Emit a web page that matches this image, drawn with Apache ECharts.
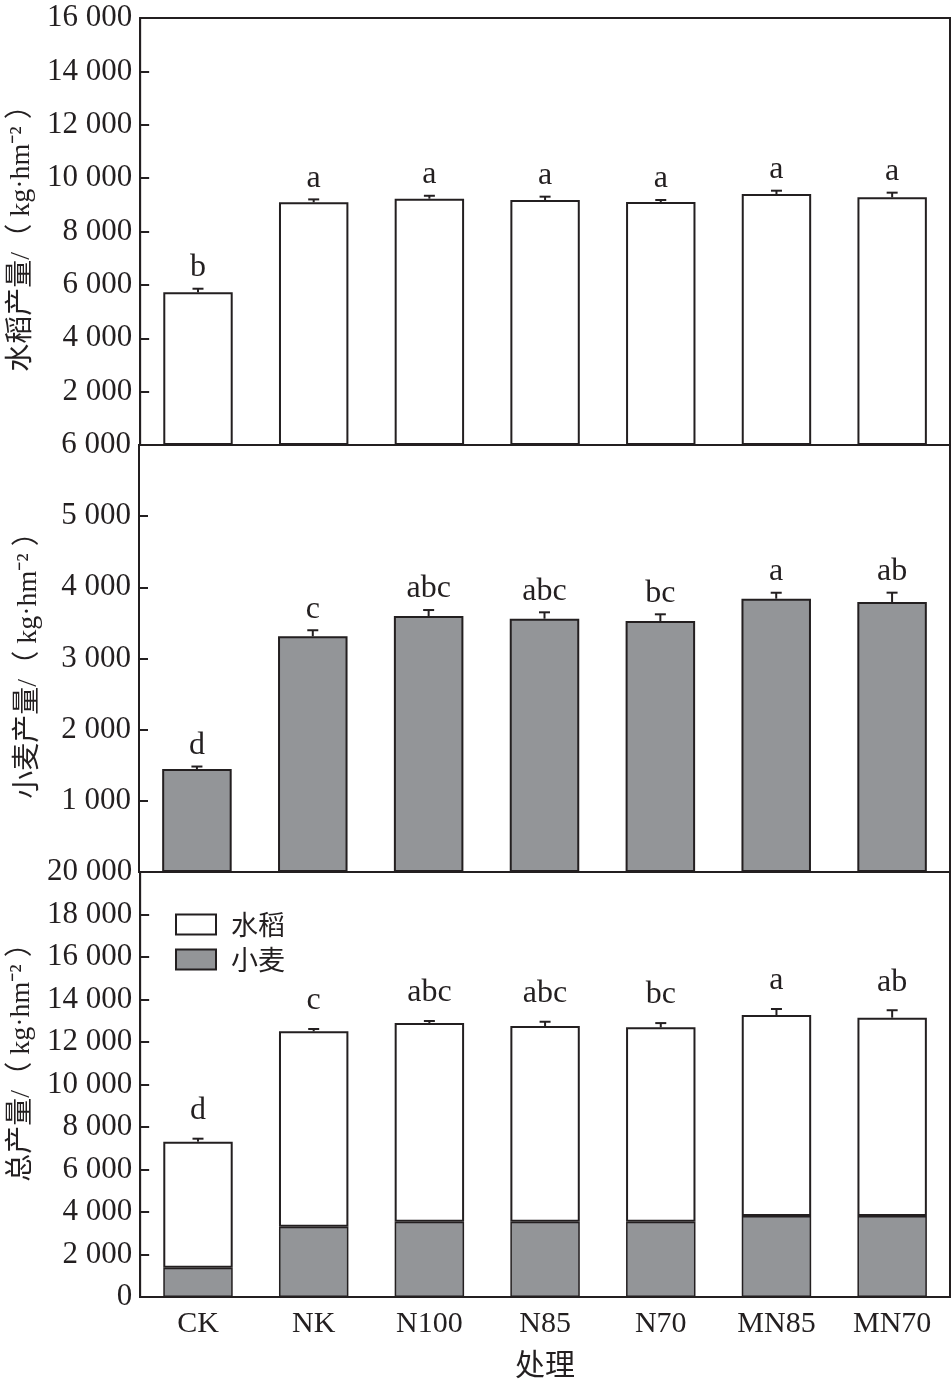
<!DOCTYPE html>
<html>
<head>
<meta charset="utf-8">
<script src="https://cdn.jsdelivr.net/npm/echarts@6/dist/echarts.min.js"></script>
<style>
  html, body { margin: 0; padding: 0; background: #fff; }
  #main { width: 951px; height: 1388px; }
</style>
</head>
<body>
<div id="main"></div>
<script>
// 处理
var treatments = ['CK', 'NK', 'N100', 'N85', 'N70', 'MN85', 'MN70'];

// 水稻产量
var riceYield = [5721, 9093, 9229, 9180, 9105, 9404, 9280];
var riceErr = [135, 110, 110, 125, 75, 125, 175];
var riceLetters = ['b', 'a', 'a', 'a', 'a', 'a', 'a'];

// 小麦产量
var wheatYield = [1447, 3312, 3597, 3559, 3527, 3840, 3794];
var wheatErr = [35, 85, 84, 90, 94, 84, 131];
var wheatLetters = ['d', 'c', 'abc', 'abc', 'bc', 'a', 'ab'];

// 总产量 (bottom panel: wheat part and total)
var totalWheatPart = [1379, 3308, 3544, 3544, 3544, 3812, 3812];
var totalYield = [7310, 12502, 12894, 12753, 12690, 13270, 13145];
var totalErr = [140, 110, 94, 200, 200, 282, 350];
var totalLetters = ['d', 'c', 'abc', 'abc', 'bc', 'a', 'ab'];

var ink = '#231f20';
var grey = '#939598';
var serif = 'Liberation Serif';

var chart = echarts.init(document.getElementById('main'));

function fmt(v) {
    if (v < 1000) return String(v);
    var r = String(v % 1000);
    while (r.length < 3) r = '0' + r;
    return Math.floor(v / 1000) + ' ' + r;
}

// error bar + significance letter
function errItem(letters, gap) {
    return function (params, api) {
        var i = api.value(0);
        var v = api.value(1);
        var e = api.value(2);
        var p0 = api.coord([i, v]);
        var p1 = api.coord([i, v + e]);
        var st = { stroke: ink, lineWidth: 2 };
        return {
            type: 'group',
            children: [
                { type: 'line', shape: { x1: p0[0], y1: p0[1], x2: p1[0], y2: p1[1] }, style: st },
                { type: 'line', shape: { x1: p1[0] - 5.5, y1: p1[1], x2: p1[0] + 5.5, y2: p1[1] }, style: st },
                {
                    type: 'text',
                    x: p1[0],
                    y: p1[1] - gap,
                    style: {
                        text: letters[params.dataIndex],
                        fill: ink,
                        font: '32px "' + serif + '"',
                        textAlign: 'center',
                        textVerticalAlign: 'bottom'
                    }
                }
            ]
        };
    };
}

function errData(vals, errs) {
    return vals.map(function (v, i) { return [i, v, errs[i]]; });
}

function xAx(idx, showLabel) {
    return {
        type: 'category',
        gridIndex: idx,
        data: treatments,
        axisLine: { lineStyle: { color: ink, width: 2 } },
        axisTick: { show: false },
        axisLabel: {
            show: showLabel,
            color: ink,
            fontFamily: serif,
            fontSize: 30,
            margin: 12
        },
        name: showLabel ? '处理' : '',
        nameLocation: 'middle',
        nameGap: 52,
        nameTextStyle: { color: ink, fontFamily: 'Noto Sans CJK SC', fontSize: 30 }
    };
}

function yAx(idx, max, interval, name, hideMin, namePad) {
    return {
        type: 'value',
        gridIndex: idx,
        min: 0,
        max: max,
        interval: interval,
        splitLine: { show: false },
        axisLine: { show: true, lineStyle: { color: ink, width: 2 } },
        axisTick: { show: true, inside: true, length: 9, lineStyle: { color: ink, width: 2 } },
        axisLabel: {
            color: ink,
            fontFamily: serif,
            fontSize: 31,
            margin: 8,
            showMinLabel: !hideMin,
            formatter: fmt
        },
        name: name,
        nameLocation: 'middle',
        nameGap: 96,
        nameTextStyle: {
            color: ink,
            fontFamily: serif + ', Noto Sans CJK SC',
            fontSize: 28,
            padding: namePad
        }
    };
}

var option = {
    animation: false,
    backgroundColor: '#fff',
    grid: [
        { left: 139, width: 811, top: 18, height: 427, show: true, borderColor: ink, borderWidth: 2 },
        { left: 139, width: 811, top: 445, height: 427, show: true, borderColor: ink, borderWidth: 2 },
        { left: 139, width: 811, top: 872, height: 425, show: true, borderColor: ink, borderWidth: 2 }
    ],
    xAxis: [xAx(0, false), xAx(1, false), xAx(2, true)],
    yAxis: [
        yAx(0, 16000, 2000, '水稻产量/（ kg·hm⁻² ）', true, [0, 0, 0, 0]),
        yAx(1, 6000, 1000, '小麦产量/（ kg·hm⁻² ）', true, [0, 0, 0, 0]),
        yAx(2, 20000, 2000, '总产量/（ kg·hm⁻² ）', false, [0, 0, 0, 58])
    ],
    legend: {
        orient: 'vertical',
        left: 170,
        top: 906,
        icon: 'rect',
        itemWidth: 40,
        itemHeight: 20,
        itemGap: 8,
        data: ['水稻', '小麦'],
        itemStyle: { borderColor: ink, borderWidth: 2 },
        textStyle: { color: ink, fontFamily: 'Noto Sans CJK SC', fontSize: 27, padding: [0, 0, 0, 10] }
    },
    series: [
        {
            name: '水稻产量', type: 'bar', xAxisIndex: 0, yAxisIndex: 0, barWidth: '60%',
            itemStyle: { color: '#fff', borderColor: ink, borderWidth: 2 },
            data: riceYield
        },
        {
            type: 'custom', xAxisIndex: 0, yAxisIndex: 0, z: 5,
            renderItem: errItem(riceLetters, 5),
            data: errData(riceYield, riceErr)
        },
        {
            name: '小麦产量', type: 'bar', xAxisIndex: 1, yAxisIndex: 1, barWidth: '60%',
            itemStyle: { color: grey, borderColor: ink, borderWidth: 2 },
            data: wheatYield
        },
        {
            type: 'custom', xAxisIndex: 1, yAxisIndex: 1, z: 5,
            renderItem: errItem(wheatLetters, 5),
            data: errData(wheatYield, wheatErr)
        },
        {
            name: '小麦', type: 'bar', xAxisIndex: 2, yAxisIndex: 2, barWidth: '60%', stack: 'total',
            itemStyle: { color: grey, borderColor: ink, borderWidth: 1.5 },
            data: totalWheatPart
        },
        {
            name: '水稻', type: 'bar', xAxisIndex: 2, yAxisIndex: 2, barWidth: '60%', stack: 'total',
            itemStyle: { color: '#fff', borderColor: ink, borderWidth: 2 },
            data: totalYield.map(function (t, i) { return t - totalWheatPart[i]; })
        },
        {
            type: 'custom', xAxisIndex: 2, yAxisIndex: 2, z: 5,
            renderItem: errItem(totalLetters, 12),
            data: errData(totalYield, totalErr)
        }
    ]
};

chart.setOption(option);
</script>
</body>
</html>
